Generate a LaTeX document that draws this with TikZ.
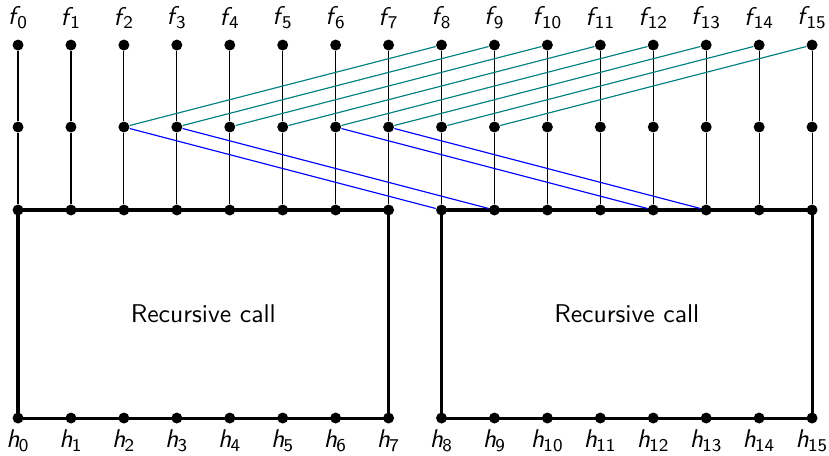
\documentclass[tikz,border=0pt]{standalone}
\usepackage{xcolor}
\usepackage{tikz}
\usetikzlibrary{positioning, calc}

\begin{document}
\begin{tikzpicture}[node distance=0.7252cm, on grid,
        dot/.style={circle, fill, inner sep=0pt, minimum size=0.15cm},
        lab/.style={font=\sffamily, inner sep=0pt},
        box/.style={line width=1.2pt},
        up/.style={teal, line width=0.45pt},
        down/.style={blue, line width=0.45pt}]
        \useasboundingbox (-0.247,0.617) rectangle (11.11,-5.617);

        \node[dot] (t0) {};
        \foreach \i [count=\j from 1] in {0,...,14}
            \node[dot] (t\j) [right=of t\i] {};

        \foreach \i in {0,...,15} {
            \node[dot] (m\i) [below=1.123cm of t\i] {};
            \node[dot] (b\i) [below=1.137cm of m\i] {};
            \node[dot] (h\i) [below=2.85cm of b\i] {};
            \node[lab] (fl\i) [above=0.37cm of t\i] {\textit{f}\kern-1.2pt\textsubscript{\i}};
            \node[lab] (hl\i) [below=0.31cm of h\i] {\textit{h}\kern-0.3pt\textsubscript{\i}};
            \draw[line width=0.45pt] (t\i) -- (m\i) -- (b\i);
        }

        % the two halves
        \draw[box] (b0.center) rectangle (h7.center);
        \draw[box] (b8.center) rectangle (h15.center);
        \node[font=\sffamily] (rc1) at ($(b0)!0.5!(h7)$) {Recursive call};
        \node[font=\sffamily] (rc2) at ($(b8)!0.5!(h15)$) {Recursive call};

        \foreach \i [evaluate=\i as \j using int(\i+6)] in {2,...,9}
            \draw[up] (m\i) -- (t\j);
        \foreach \i [evaluate=\i as \j using int(\i+6)] in {2,3,6,7}
            \draw[down] (m\i) -- (b\j);

    \end{tikzpicture}
\end{document}
